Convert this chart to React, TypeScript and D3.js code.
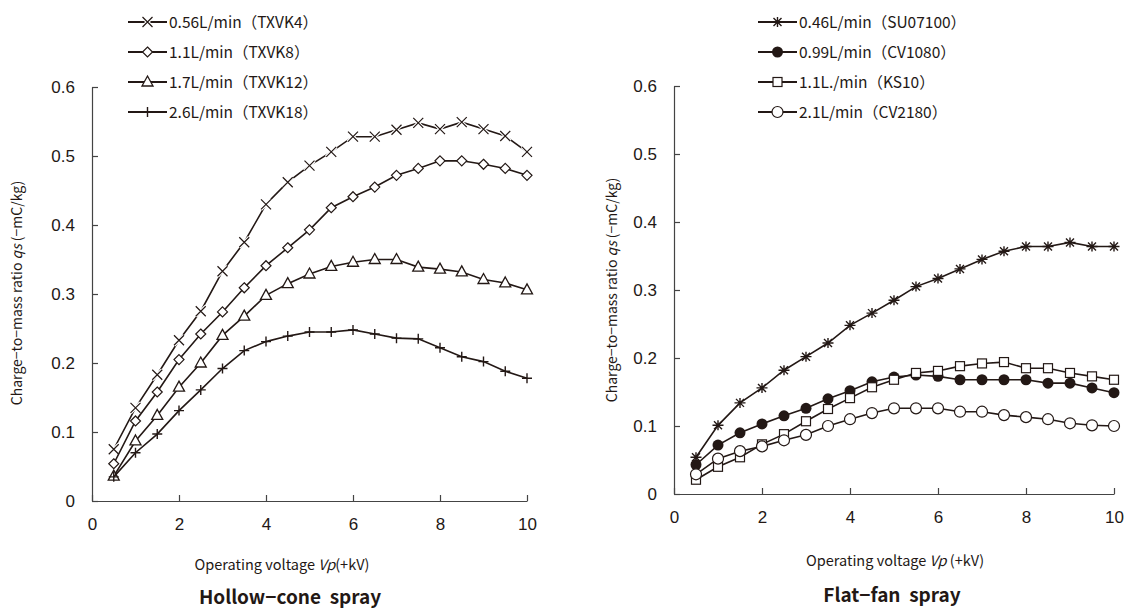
import React, { useRef, useEffect } from "react";
import * as d3 from "d3";

// operating voltage (+kV), same for every series
const voltage = [0.5, 1, 1.5, 2, 2.5, 3, 3.5, 4, 4.5, 5, 5.5, 6, 6.5, 7, 7.5, 8, 8.5, 9, 9.5, 10];

// hollow-cone nozzles
const txvk4 = [0.075, 0.135, 0.183, 0.233, 0.275, 0.333, 0.375, 0.43, 0.462, 0.486, 0.506, 0.528, 0.528, 0.538, 0.548, 0.539, 0.549, 0.539, 0.529, 0.506];
const txvk8 = [0.054, 0.116, 0.158, 0.205, 0.242, 0.274, 0.309, 0.341, 0.367, 0.393, 0.425, 0.441, 0.455, 0.472, 0.482, 0.493, 0.493, 0.488, 0.482, 0.472];
const txvk12 = [0.036, 0.087, 0.124, 0.165, 0.2, 0.24, 0.268, 0.298, 0.315, 0.329, 0.34, 0.346, 0.35, 0.35, 0.339, 0.336, 0.332, 0.321, 0.316, 0.306];
const txvk18 = [0.035, 0.07, 0.097, 0.131, 0.161, 0.192, 0.218, 0.231, 0.239, 0.245, 0.245, 0.248, 0.242, 0.236, 0.235, 0.222, 0.209, 0.202, 0.188, 0.178];

// flat-fan nozzles
const su07100 = [0.054, 0.101, 0.134, 0.156, 0.182, 0.202, 0.222, 0.248, 0.266, 0.285, 0.305, 0.317, 0.331, 0.345, 0.357, 0.364, 0.364, 0.37, 0.364, 0.364];
const cv1080 = [0.043, 0.072, 0.09, 0.103, 0.115, 0.126, 0.14, 0.152, 0.165, 0.172, 0.175, 0.173, 0.168, 0.168, 0.168, 0.168, 0.163, 0.163, 0.156, 0.149];
const ks10 = [0.021, 0.04, 0.054, 0.073, 0.088, 0.107, 0.125, 0.141, 0.157, 0.168, 0.178, 0.181, 0.188, 0.192, 0.194, 0.185, 0.185, 0.178, 0.173, 0.168];
const cv2180 = [0.029, 0.052, 0.063, 0.07, 0.079, 0.087, 0.1, 0.11, 0.119, 0.126, 0.126, 0.126, 0.121, 0.121, 0.116, 0.113, 0.11, 0.104, 0.101, 0.1];

const leftNames = ["0.56L/min（TXVK4）", "1.1L/min（TXVK8）", "1.7L/min（TXVK12）", "2.6L/min（TXVK18）"];
const rightNames = ["0.46L/min（SU07100）", "0.99L/min（CV1080）", "1.1L./min（KS10）", "2.1L/min（CV2180）"];
const leftMarks = ["cross", "diamond", "triangle", "plus"];
const rightMarks = ["asterisk", "dot", "square", "circle"];

const yTicks = [0, 0.1, 0.2, 0.3, 0.4, 0.5, 0.6];
const xTicks = [0, 2, 4, 6, 8, 10];

const INK = "#231815";
const JP = "'Noto Sans CJK JP', 'Noto Sans', sans-serif";
const NUM = "'Liberation Sans', Arial, sans-serif";

function drawMark(g, kind, x, y) {
  const s = 5;
  if (kind === "cross") {
    const p = `M${x - s},${y - s}L${x + s},${y + s}M${x - s},${y + s}L${x + s},${y - s}`;
    g.append("path").attr("d", p).attr("stroke", "#fff").attr("stroke-width", 3.5).attr("fill", "none");
    g.append("path").attr("d", p).attr("stroke", INK).attr("stroke-width", 1.2).attr("fill", "none");
  } else if (kind === "plus") {
    g.append("path")
      .attr("d", `M${x - s},${y}H${x + s}M${x},${y - s}V${y + s}`)
      .attr("stroke", INK).attr("stroke-width", 1.4).attr("fill", "none");
  } else if (kind === "asterisk") {
    const a = 4;
    g.append("path")
      .attr("d", `M${x - s - 0.5},${y}H${x + s + 0.5}M${x},${y - s}V${y + s}M${x - a},${y - a}L${x + a},${y + a}M${x - a},${y + a}L${x + a},${y - a}`)
      .attr("stroke", INK).attr("stroke-width", 1.4).attr("fill", "none");
  } else if (kind === "diamond") {
    g.append("path")
      .attr("d", `M${x},${y - 5}L${x + 5},${y}L${x},${y + 5}L${x - 5},${y}Z`)
      .attr("stroke", INK).attr("stroke-width", 1.2).attr("fill", "#fff");
  } else if (kind === "triangle") {
    g.append("path")
      .attr("d", `M${x},${y - 6}L${x + 5.5},${y + 4}L${x - 5.5},${y + 4}Z`)
      .attr("stroke", INK).attr("stroke-width", 1.3).attr("fill", "#fff");
  } else if (kind === "square") {
    g.append("rect")
      .attr("x", x - 4.5).attr("y", y - 4.5).attr("width", 9).attr("height", 9)
      .attr("stroke", INK).attr("stroke-width", 1.2).attr("fill", "#fff");
  } else if (kind === "dot") {
    g.append("circle").attr("cx", x).attr("cy", y).attr("r", 5.5).attr("fill", INK);
  } else if (kind === "circle") {
    g.append("circle").attr("cx", x).attr("cy", y).attr("r", 5.5)
      .attr("stroke", INK).attr("stroke-width", 1.2).attr("fill", "#fff");
  }
}

function panel(svg, cfg) {
  const x = d3.scaleLinear().domain([0, 10]).range(cfg.xr);
  const y = d3.scaleLinear().domain([0, 0.6]).range(cfg.yr);
  const g = svg.append("g");

  const xa = g.append("g")
    .attr("transform", `translate(0,${cfg.yr[0]})`)
    .call(d3.axisBottom(x).tickValues(xTicks).tickSizeInner(-6).tickSizeOuter(0).tickPadding(17));
  const ya = g.append("g")
    .attr("transform", `translate(${cfg.xr[0]},0)`)
    .call(d3.axisLeft(y).tickValues(yTicks).tickSizeInner(-6).tickSizeOuter(0).tickPadding(17)
      .tickFormat((d) => (d === 0 ? "0" : d.toFixed(1))));
  [xa, ya].forEach((a) => {
    a.selectAll("path, line").attr("stroke", "#444").attr("stroke-width", 1.2);
    a.selectAll("text").attr("fill", INK).style("font-family", NUM).style("font-size", "17px");
  });

  const line = d3.line().x((d) => x(d[0])).y((d) => y(d[1]));
  cfg.series.forEach((vals, i) => {
    const pts = voltage.map((v, j) => [v, vals[j]]);
    g.append("path").attr("d", line(pts)).attr("fill", "none").attr("stroke", INK).attr("stroke-width", 1.6);
    const mg = g.append("g");
    pts.forEach((p) => drawMark(mg, cfg.marks[i], x(p[0]), y(p[1])));
  });

  // legend
  const lg = g.append("g");
  cfg.names.forEach((name, i) => {
    const ly = cfg.legendY + i * 30;
    lg.append("line").attr("x1", cfg.legendX).attr("x2", cfg.legendX + 39)
      .attr("y1", ly).attr("y2", ly).attr("stroke", INK).attr("stroke-width", 2.2);
    drawMark(lg, cfg.marks[i], cfg.legendX + 19.5, ly);
    lg.append("text").attr("x", cfg.legendX + 41).attr("y", ly).attr("dy", "0.36em")
      .attr("fill", INK).style("font-family", JP).style("font-size", "15.5px").text(name);
  });

  // y label
  const yl = g.append("text")
    .attr("transform", `translate(${cfg.yLabelX},${cfg.yLabelY}) rotate(-90)`)
    .attr("text-anchor", "middle").attr("fill", INK)
    .style("font-family", JP).style("font-size", "14px");
  yl.append("tspan").text("Charge−to−mass ratio ");
  yl.append("tspan").style("font-style", "italic").text("qs");
  yl.append("tspan").text(" (−mC/kg)");

  // x label
  const xl = g.append("text")
    .attr("x", cfg.xLabelX).attr("y", cfg.xLabelY)
    .attr("text-anchor", "middle").attr("fill", INK)
    .style("font-family", JP).style("font-size", "14.5px");
  xl.append("tspan").text("Operating voltage ");
  xl.append("tspan").style("font-style", "italic").text("Vp");
  xl.append("tspan").text(cfg.xUnit);

  g.append("text").attr("x", cfg.titleX).attr("y", cfg.titleY)
    .attr("text-anchor", "middle").attr("fill", INK)
    .style("white-space", "pre")
    .style("font-family", JP).style("font-size", "19px").style("font-weight", 700)
    .text(cfg.title);
}

function App() {
  const ref = useRef(null);
  useEffect(() => {
    const svg = d3.select(ref.current);
    svg.selectAll("*").remove();
    panel(svg, {
      xr: [92, 527], yr: [501, 87],
      series: [txvk4, txvk8, txvk12, txvk18], names: leftNames, marks: leftMarks,
      legendX: 128, legendY: 22,
      yLabelX: 22, yLabelY: 293,
      xLabelX: 282, xLabelY: 570, xUnit: "(+kV)",
      titleX: 290, titleY: 604, title: "Hollow−cone  spray",
    });
    panel(svg, {
      xr: [674, 1114], yr: [494, 86],
      series: [su07100, cv1080, ks10, cv2180], names: rightNames, marks: rightMarks,
      legendX: 758, legendY: 22,
      yLabelX: 617, yLabelY: 290,
      xLabelX: 895, xLabelY: 566, xUnit: " (+kV)",
      titleX: 892, titleY: 602, title: "Flat−fan  spray",
    });
  }, []);
  return (
    <svg ref={ref} width={1136} height={612}
      style={{ position: "absolute", left: 0, top: 0, background: "#fff" }} />
  );
}

export default App;
